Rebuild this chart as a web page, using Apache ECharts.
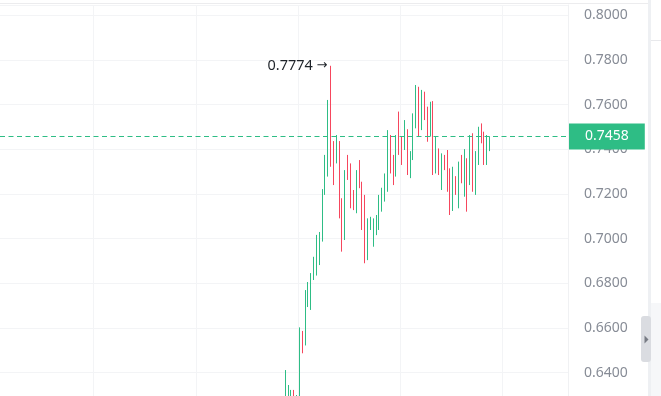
<!DOCTYPE html>
<html><head><meta charset="utf-8">
<script src="https://cdn.jsdelivr.net/npm/echarts@6/dist/echarts.min.js"></script>
<style>html,body{margin:0;padding:0;background:#fff;overflow:hidden}#c{width:661px;height:396px}</style>
</head><body><div id="c"></div>
<script>
// ---- data ----
const totalSlots = 200;      // category slots on the x axis
const firstIndex = 100;      // slot of the first candle
const opens = [
0.6260,0.6270,0.6280,0.6323,0.6270,0.6280,0.6587,0.6522,0.6694,0.6681,
0.6815,0.6835,0.6882,0.6987,0.7196,0.7278,0.7774,0.7437,0.7337,0.7437,
0.7181,0.6994,0.7375,0.7337,0.7218,0.7114,0.7352,0.7255,0.7196,0.6904,
0.7039,0.6964,0.7016,0.7039,0.7121,0.7166,0.7210,0.7464,0.7375,0.7278,
0.7569,0.7457,0.7397,0.7490,0.7271,0.7352,0.7494,0.7680,0.7486,0.7658,
0.7591,0.7457,0.7616,0.7292,0.7404,0.7218,0.7375,0.7397,0.7315,0.7124,
0.7280,0.7136,0.7375,0.7188,0.7360,0.7240,0.7472,0.7196,0.7330,0.7516,
0.7479,0.7330,0.7392];
const closes = [
0.6412,0.6345,0.6323,0.6285,0.6300,0.6603,0.6487,0.6770,0.6806,0.6846,
0.6919,0.7017,0.7030,0.7222,0.7375,0.7621,0.7322,0.7240,0.7464,0.7091,
0.6942,0.7307,0.7263,0.7136,0.7128,0.7307,0.7226,0.7039,0.6890,0.7091,
0.7098,0.7091,0.7106,0.7196,0.7228,0.7292,0.7486,0.7292,0.7240,0.7464,
0.7375,0.7330,0.7531,0.7285,0.7392,0.7561,0.7688,0.7457,0.7666,0.7531,
0.7434,0.7613,0.7285,0.7457,0.7285,0.7382,0.7307,0.7210,0.7106,0.7322,
0.7196,0.7345,0.7248,0.7401,0.7121,0.7464,0.7210,0.7392,0.7501,0.7427,
0.7330,0.7464,0.7458];
const highs = [
0.6412,0.6345,0.6323,0.6323,0.6300,0.6603,0.6587,0.6770,0.6806,0.6846,
0.6919,0.7017,0.7030,0.7222,0.7375,0.7621,0.7774,0.7437,0.7464,0.7437,
0.7181,0.7307,0.7375,0.7337,0.7218,0.7307,0.7352,0.7255,0.7196,0.7091,
0.7098,0.7091,0.7106,0.7196,0.7228,0.7292,0.7486,0.7464,0.7375,0.7464,
0.7569,0.7457,0.7531,0.7490,0.7392,0.7561,0.7688,0.7680,0.7666,0.7658,
0.7591,0.7613,0.7616,0.7457,0.7404,0.7382,0.7375,0.7397,0.7315,0.7322,
0.7280,0.7345,0.7375,0.7401,0.7360,0.7464,0.7472,0.7392,0.7501,0.7516,
0.7479,0.7464,0.7458];
const lows = [
0.6260,0.6270,0.6280,0.6285,0.6270,0.6280,0.6487,0.6522,0.6694,0.6681,
0.6815,0.6835,0.6882,0.6987,0.7196,0.7278,0.7322,0.7240,0.7337,0.7091,
0.6942,0.6994,0.7263,0.7136,0.7128,0.7114,0.7226,0.7039,0.6890,0.6904,
0.7039,0.6964,0.7016,0.7039,0.7121,0.7166,0.7210,0.7292,0.7240,0.7278,
0.7375,0.7330,0.7397,0.7285,0.7271,0.7352,0.7494,0.7457,0.7486,0.7531,
0.7434,0.7457,0.7285,0.7292,0.7285,0.7218,0.7307,0.7210,0.7106,0.7124,
0.7196,0.7136,0.7248,0.7188,0.7121,0.7240,0.7210,0.7196,0.7330,0.7427,
0.7330,0.7330,0.7392];
const yMin = 0.62, yMax = 0.80461, yStep = 0.02;
const lastPrice = closes[closes.length - 1];

// ---- build ----
const cats = [];
const candles = [];
for (let i = 0; i < totalSlots; i++) {
  cats.push(String(i));
  const k = i - firstIndex;
  if (k >= 0 && k < opens.length) candles.push([opens[k], closes[k], lows[k], highs[k]]);
  else candles.push('-');
}
const UP = '#2ebd85', DOWN = '#f6465d';
const chart = echarts.init(document.getElementById('c'), null, {renderer: 'canvas'});
chart.setOption({
  animation: false,
  backgroundColor: '#ffffff',
  grid: {left: 0, width: 568, top: 5, height: 412.4, containLabel: false, outerBoundsMode: 'none'},
  xAxis: {
    type: 'category', data: cats, boundaryGap: true,
    axisLine: {show: false}, axisTick: {show: false}, axisLabel: {show: false},
    splitLine: {show: true, interval: function (idx) { return (idx - 33) % 36 === 0; },
      lineStyle: {color: '#f3f4f6', width: 1}}
  },
  yAxis: {
    type: 'value', position: 'right', min: yMin, max: yMax, interval: yStep, scale: true,
    axisLine: {show: true, lineStyle: {color: '#f0f1f3'}},
    axisTick: {show: false},
    splitLine: {show: true, lineStyle: {color: '#f3f4f6', width: 1}},
    axisLabel: {show: true, showMaxLabel: false, margin: 16, color: '#878c96',
      fontSize: 14, fontFamily: 'Noto Sans',
      formatter: function (v) { return v.toFixed(4); }}
  },
  series: [{
    type: 'candlestick',
    data: candles,
    barWidth: 1.2,
    itemStyle: {color: UP, color0: DOWN, borderColor: UP, borderColor0: DOWN, borderWidth: 1},
    markPoint: {
      symbol: 'circle', symbolSize: 1,
      itemStyle: {color: 'rgba(0,0,0,0)'},
      label: {show: true, position: 'left', distance: 3, color: '#1e2329',
        fontSize: 14, fontFamily: 'Noto Sans',
        formatter: function (p) { return '{n|' + Number(p.value).toFixed(4) + '} {a|\u2192}'; },
        rich: {
          n: {fontSize: 14.5, fontFamily: 'Noto Sans', color: '#1e2329'},
          a: {fontSize: 13, fontFamily: 'DejaVu Sans', color: '#1e2329'}
        }},
      data: [{type: 'max', valueDim: 'highest'}]
    },
    markLine: {
      silent: true, symbol: ['none', 'none'], precision: 4,
      lineStyle: {color: UP, type: [5, 3.5], width: 1, opacity: 1},
      label: {show: true, position: 'end', distance: 1, color: '#ffffff',
        backgroundColor: UP, padding: [6, 16, 6, 16], fontSize: 14, fontFamily: 'Noto Sans',
        lineHeight: 14,
        formatter: function (p) { return Number(p.value).toFixed(4); }},
      data: [{yAxis: lastPrice, lineStyle: {color: UP}}]
    }
  }],
  graphic: [
    {type: 'line', shape: {x1: 0, y1: 3.5, x2: 650, y2: 3.5}, style: {stroke: '#ececee', lineWidth: 1}, z: 10},
    {type: 'rect', shape: {x: 648, y: 0, width: 3, height: 396}, style: {fill: '#eef0f3'}, z: 10},
    {type: 'rect', shape: {x: 651, y: 0, width: 10, height: 396}, style: {fill: '#ffffff'}, z: 10},
    {type: 'line', shape: {x1: 651, y1: 40.5, x2: 661, y2: 40.5}, style: {stroke: '#e8e9ec', lineWidth: 1}, z: 11},
    {type: 'rect', shape: {x: 651, y: 303, width: 10, height: 93}, style: {fill: '#f6f7f9'}, z: 11},
    {type: 'rect', shape: {x: 641, y: 316, width: 10, height: 46, r: 3}, style: {fill: '#dadce1'}, z: 12},
    {type: 'polygon', shape: {points: [[644.5, 335.5], [648.5, 339.5], [644.5, 343.5]]}, style: {fill: '#777b84'}, z: 13}
  ]
});
</script>
</body></html>
